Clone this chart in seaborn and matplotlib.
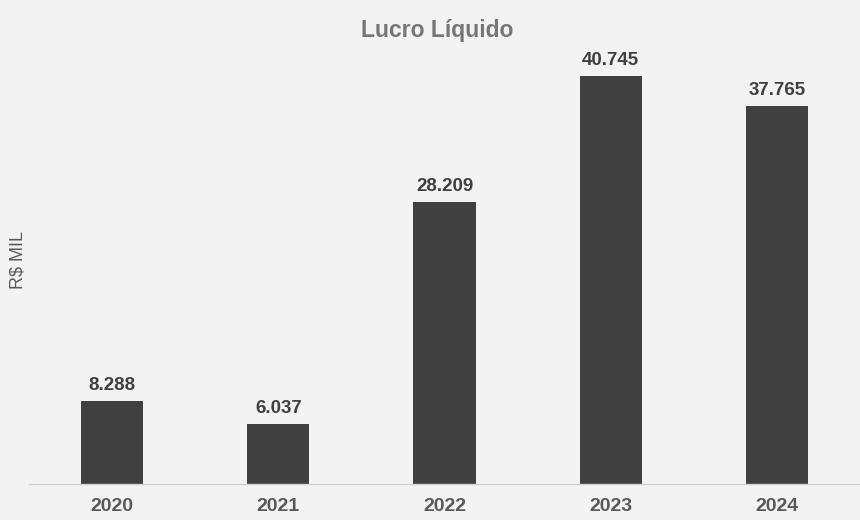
import matplotlib
matplotlib.use("Agg")
import matplotlib.pyplot as plt
import pandas as pd
import seaborn as sns

# Data
years = ["2020", "2021", "2022", "2023", "2024"]
lucro = [8288, 6037, 28209, 40745, 37765]
labels = ["8.288", "6.037", "28.209", "40.745", "37.765"]

BG = "#f3f3f3"
BAR = "#404040"
GRAY = "#595959"

sns.set_theme(style="white")
plt.rcParams["font.family"] = ["Liberation Sans", "DejaVu Sans"]

df = pd.DataFrame({"Ano": years, "Lucro": lucro})

fig = plt.figure(figsize=(8.6, 5.2), dpi=100, facecolor=BG)
ax = fig.add_axes([29 / 860, 36 / 520, 831 / 860, 424 / 520])
ax.set_facecolor(BG)

sns.barplot(data=df, x="Ano", y="Lucro", color=BAR, width=0.375,
            saturation=1, linewidth=0, ax=ax)

ax.set_xlim(-0.5, 4.5)
ax.set_ylim(0, 40745 * 424 / 408)

for i, (v, lab) in enumerate(zip(lucro, labels)):
    ax.annotate(lab, (i, v), xytext=(0, 5), textcoords="offset points",
                ha="center", va="bottom", fontsize=13.5, fontweight="bold",
                color=BAR)

for s in ["top", "right", "left"]:
    ax.spines[s].set_visible(False)
ax.spines["bottom"].set_color("#d0d0d0")
ax.spines["bottom"].set_linewidth(1)

ax.set_yticks([])
ax.set_xlabel("")
ax.set_ylabel("")
ax.tick_params(axis="x", length=0, pad=10)
for t in ax.get_xticklabels():
    t.set_fontsize(14)
    t.set_fontweight("bold")
    t.set_color(GRAY)

fig.text(18 / 860, 260 / 520, "R$ MIL", rotation=90, ha="center",
         va="center", fontsize=13, color=GRAY)
fig.text(437 / 860, 1 - 30 / 520, "Lucro Líquido", ha="center", va="center",
         fontsize=16.5, fontweight="bold", color="#767676")

fig.savefig("out.png", dpi=100, facecolor=BG)
